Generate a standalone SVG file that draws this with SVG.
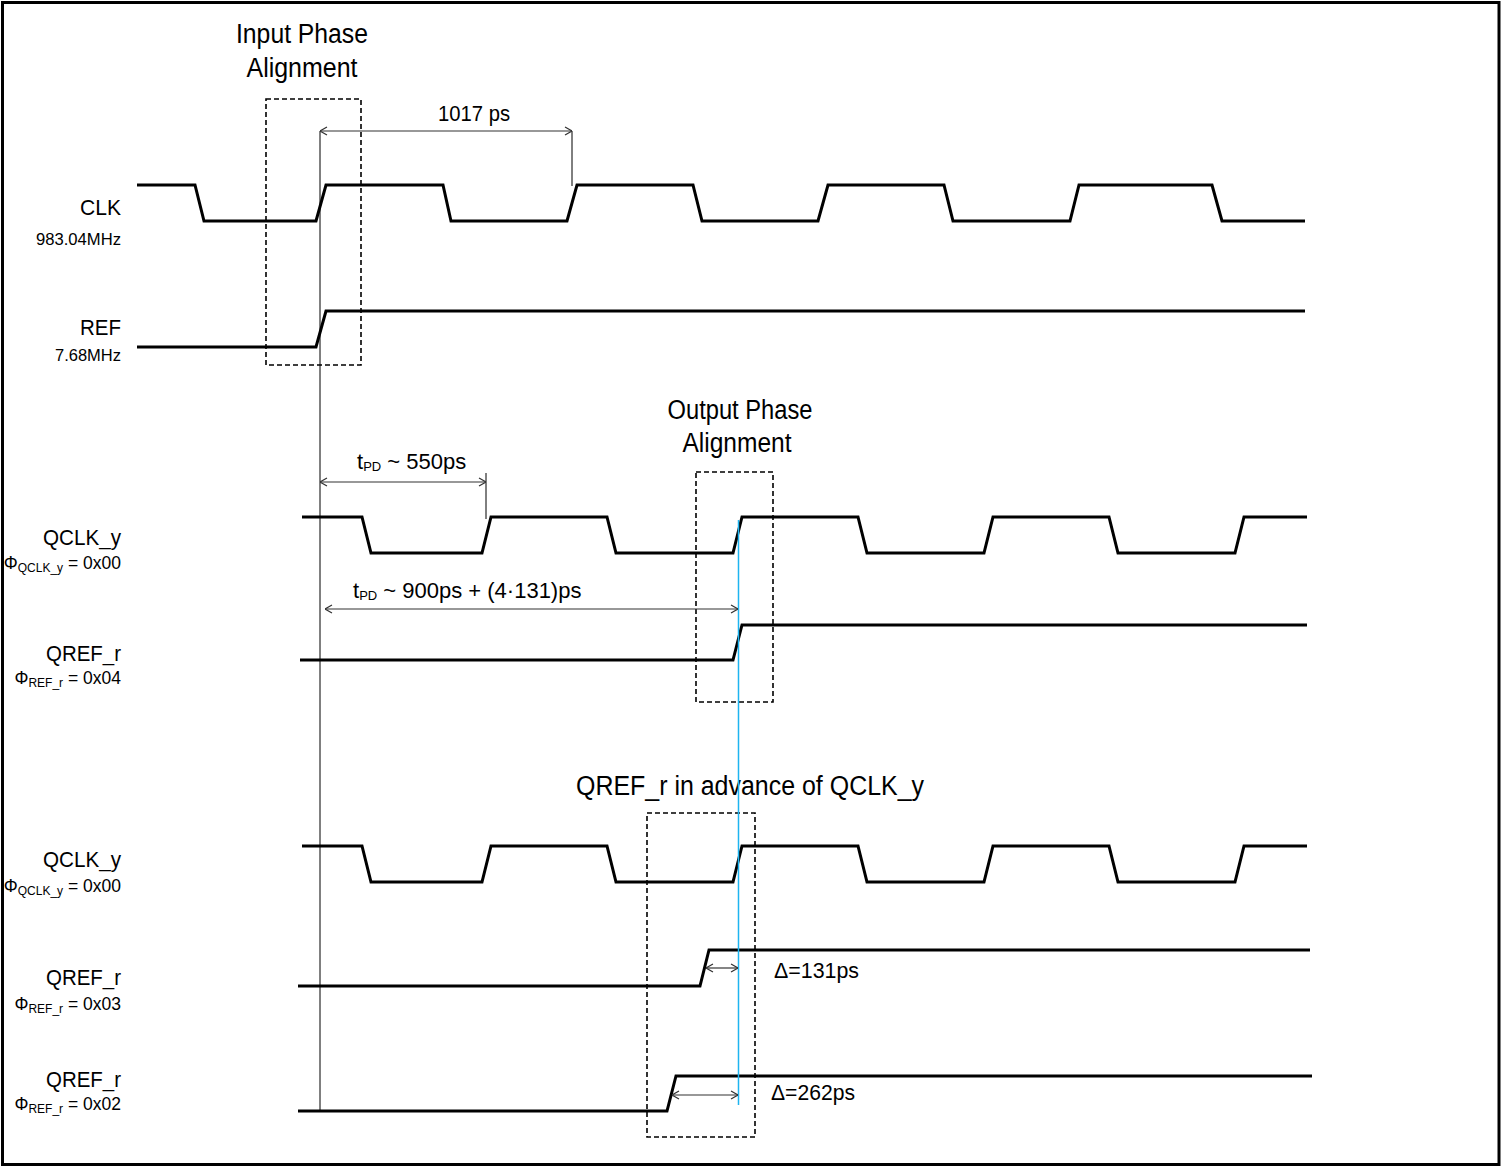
<svg xmlns="http://www.w3.org/2000/svg" width="1505" height="1167" viewBox="0 0 1505 1167">
<style>
text{font-family:"Liberation Sans",Arial,sans-serif;fill:#000}
.wave{fill:none;stroke:#000;stroke-width:3;stroke-linejoin:miter}
.dash{fill:none;stroke:#000;stroke-width:1.6;stroke-dasharray:5,3}
.thin{fill:none;stroke:#000;stroke-width:1}
.arr{fill:none;stroke:#333;stroke-width:1.2;marker-start:url(#ah);marker-end:url(#ah)}
.name{font-size:22px;text-anchor:end}
.sub{font-size:17px;text-anchor:end}
.phi{font-size:17.5px;text-anchor:end}
.head{font-size:27px;text-anchor:middle}
.ann{font-size:22px}
</style>
<defs>
<marker id="ah" viewBox="0 0 10 10" refX="10" refY="5" markerWidth="10" markerHeight="10" markerUnits="userSpaceOnUse" orient="auto-start-reverse">
<path d="M3,1 L10,5 L3,9" fill="none" stroke="#333" stroke-width="1.2"/>
</marker>
</defs>
<rect x="2.5" y="2.5" width="1496.5" height="1162" fill="#fff" stroke="#000" stroke-width="3"/>

<g id="clk">
<path class="wave" d="M137,185 H195 L204,221 H316 L326,185 H443 L451,221 H567 L577,185 H693 L702,221 H818 L828,185 H944 L953,221 H1070 L1079,185 H1212 L1222,221 H1305"/>
<text class="name" x="121" y="215" textLength="41" lengthAdjust="spacingAndGlyphs">CLK</text>
<text class="sub" x="121" y="245" textLength="85" lengthAdjust="spacingAndGlyphs">983.04MHz</text>
</g>
<g id="ref">
<path class="wave" d="M137,347 H316 L326,311 H1305"/>
<text class="name" x="121" y="335" textLength="41" lengthAdjust="spacingAndGlyphs">REF</text>
<text class="sub" x="121" y="361" textLength="66" lengthAdjust="spacingAndGlyphs">7.68MHz</text>
</g>
<g id="input-align">
<rect class="dash" x="266" y="99" width="95" height="266"/>
<text class="head" x="302" y="43" textLength="132" lengthAdjust="spacingAndGlyphs">Input Phase</text>
<text class="head" x="302" y="77" textLength="111" lengthAdjust="spacingAndGlyphs">Alignment</text>
</g>

<g id="qclk1">
<path class="wave" d="M302,517 H362 L371,553 H482 L491,517 H607 L616,553 H733 L742,517 H858 L867,553 H984 L993,517 H1109 L1118,553 H1235 L1244,517 H1307"/>
<text class="name" x="121" y="545" textLength="78" lengthAdjust="spacingAndGlyphs">QCLK_y</text>
<text class="phi" x="121" y="569">Φ<tspan font-size="12" dy="3">QCLK_y</tspan><tspan dy="-3"> = 0x00</tspan></text>
</g>
<g id="qref1">
<path class="wave" d="M300,660 H733 L742,625 H1307"/>
<text class="name" x="121" y="661" textLength="75" lengthAdjust="spacingAndGlyphs">QREF_r</text>
<text class="phi" x="121" y="684">Φ<tspan font-size="12" dy="3">REF_r</tspan><tspan dy="-3"> = 0x04</tspan></text>
</g>
<g id="output-align">
<rect class="dash" x="696" y="472" width="77" height="230"/>
<text class="head" x="740" y="419" textLength="145" lengthAdjust="spacingAndGlyphs">Output Phase</text>
<text class="head" x="737" y="452" textLength="109" lengthAdjust="spacingAndGlyphs">Alignment</text>
</g>

<g id="qclk2">
<path class="wave" d="M302,846 H362 L371,882 H482 L491,846 H607 L616,882 H733 L742,846 H858 L867,882 H984 L993,846 H1109 L1118,882 H1235 L1244,846 H1307"/>
<text class="name" x="121" y="867" textLength="78" lengthAdjust="spacingAndGlyphs">QCLK_y</text>
<text class="phi" x="121" y="892">Φ<tspan font-size="12" dy="3">QCLK_y</tspan><tspan dy="-3"> = 0x00</tspan></text>
</g>
<g id="qref2">
<path class="wave" d="M298,986 H700 L709,950 H1310"/>
<text class="name" x="121" y="985" textLength="75" lengthAdjust="spacingAndGlyphs">QREF_r</text>
<text class="phi" x="121" y="1010">Φ<tspan font-size="12" dy="3">REF_r</tspan><tspan dy="-3"> = 0x03</tspan></text>
</g>
<g id="qref3">
<path class="wave" d="M298,1111 H667 L676,1076 H1312"/>
<text class="name" x="121" y="1087" textLength="75" lengthAdjust="spacingAndGlyphs">QREF_r</text>
<text class="phi" x="121" y="1110">Φ<tspan font-size="12" dy="3">REF_r</tspan><tspan dy="-3"> = 0x02</tspan></text>
</g>
<g id="advance-box">
<rect class="dash" x="647" y="813" width="108" height="324"/>
<text x="576" y="795" style="font-size:27px" textLength="348" lengthAdjust="spacingAndGlyphs">QREF_r in advance of QCLK_y</text>
</g>

<g id="connectors">
<line class="thin" x1="320" y1="131" x2="320" y2="1112"/>
<line class="thin" x1="572" y1="131" x2="572" y2="186"/>
<line class="thin" x1="486" y1="473" x2="486" y2="519"/>
<line x1="738.5" y1="520" x2="738.5" y2="1105" stroke="#1EB4F0" stroke-width="1.5"/>
<line class="arr" x1="320" y1="131" x2="572" y2="131"/>
<line class="arr" x1="320" y1="482" x2="486" y2="482"/>
<line class="arr" x1="325" y1="609" x2="738" y2="609"/>
<line class="arr" x1="706" y1="968" x2="738" y2="968"/>
<line class="arr" x1="672" y1="1095" x2="738" y2="1095"/>
<text class="ann" x="438" y="121" textLength="72" lengthAdjust="spacingAndGlyphs">1017 ps</text>
<text class="ann" x="357" y="469">t<tspan font-size="13" dy="2">PD</tspan><tspan dy="-2"> ~ 550ps</tspan></text>
<text class="ann" x="353" y="598">t<tspan font-size="13" dy="2">PD</tspan><tspan dy="-2"> ~ 900ps + (4·131)ps</tspan></text>
<text class="ann" x="774" y="978" textLength="85" lengthAdjust="spacingAndGlyphs">Δ=131ps</text>
<text class="ann" x="771" y="1100" textLength="84" lengthAdjust="spacingAndGlyphs">Δ=262ps</text>
</g>
</svg>
